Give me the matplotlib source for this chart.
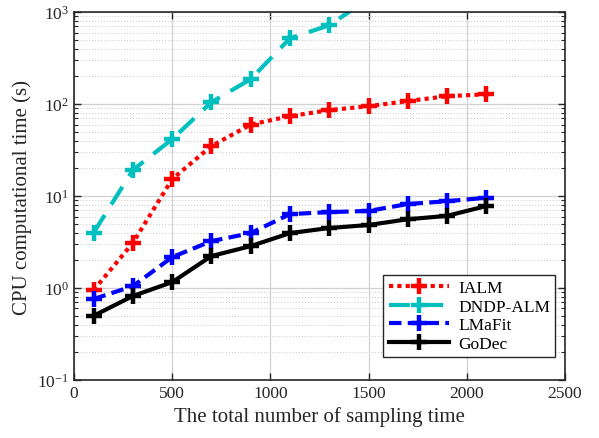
import matplotlib
matplotlib.use("Agg")
import matplotlib.pyplot as plt
from matplotlib.ticker import LogLocator, NullFormatter

plt.rcParams["font.family"] = "Liberation Serif"
plt.rcParams["mathtext.fontset"] = "custom"
plt.rcParams["mathtext.rm"] = "Liberation Serif"
plt.rcParams["mathtext.it"] = "Liberation Serif:italic"

# data
samples = [100, 300, 500, 700, 900, 1100, 1300, 1500, 1700, 1900, 2100]
ialm = [0.95, 3.1, 15.3, 35, 60, 74, 86, 95, 108, 122, 128]
dndp_x = [100, 300, 500, 700, 900, 1100, 1300, 1500]
dndp = [4.0, 19.2, 41.6, 105, 187, 520, 720, 1400]
lmafit = [0.76, 1.05, 2.17, 3.24, 3.96, 6.37, 6.7, 6.9, 8.2, 8.8, 9.6]
godec = [0.50, 0.82, 1.16, 2.23, 2.86, 3.96, 4.5, 4.85, 5.6, 6.1, 7.8]

fig = plt.figure(figsize=(5.99, 4.39), dpi=100)
ax = fig.add_axes([0.1235, 0.132, 0.8195, 0.838])

mk = dict(marker="+", markersize=11, markeredgewidth=3.2, linewidth=3)
ax.plot(samples, ialm, color="#ff0000", linestyle=(0, (1, 1)), label="IALM", **mk)
ax.plot(dndp_x, dndp, color="#00bfbf", linestyle=(0, (5, 3)), label="DNDP-ALM", **mk)
ax.plot(samples, lmafit, color="#0000ff", linestyle=(0, (3, 1.5)), label="LMaFit", **mk)
ax.plot(samples, godec, color="black", linestyle="-", label="GoDec", **mk)

ax.set_yscale("log")
ax.set_xlim(0, 2500)
ax.set_ylim(0.1, 1000)
ax.set_xticks([0, 500, 1000, 1500, 2000, 2500])
ax.yaxis.set_minor_locator(LogLocator(base=10, subs=range(2, 10)))
ax.yaxis.set_minor_formatter(NullFormatter())

ax.grid(True, which="major", color="#d0d0d0", linewidth=0.9)
ax.grid(True, which="minor", axis="y", color="#c8c8c8", linestyle=(0, (1, 2)), linewidth=0.7)
ax.set_axisbelow(True)

ax.tick_params(which="both", direction="in", top=True, right=True, labelsize=12.5, colors="#262626")
ax.tick_params(which="major", length=5, width=1)
ax.tick_params(which="minor", length=3, width=0.8)
for s in ax.spines.values():
    s.set_linewidth(1.2)
    s.set_color("#262626")

ax.set_xlabel("The total number of sampling time", fontsize=15, color="#262626")
ax.set_ylabel("CPU computational time (s)", fontsize=15, color="#262626")

leg = ax.legend(loc="lower right", bbox_to_anchor=(0.998, 0.038), fontsize=12.5, handlelength=3.5,
                fancybox=False, edgecolor="#262626", framealpha=1, borderpad=0.3,
                labelspacing=0.15, handletextpad=0.5)
leg.get_frame().set_linewidth(1.0)

fig.savefig("out.png", dpi=100)
